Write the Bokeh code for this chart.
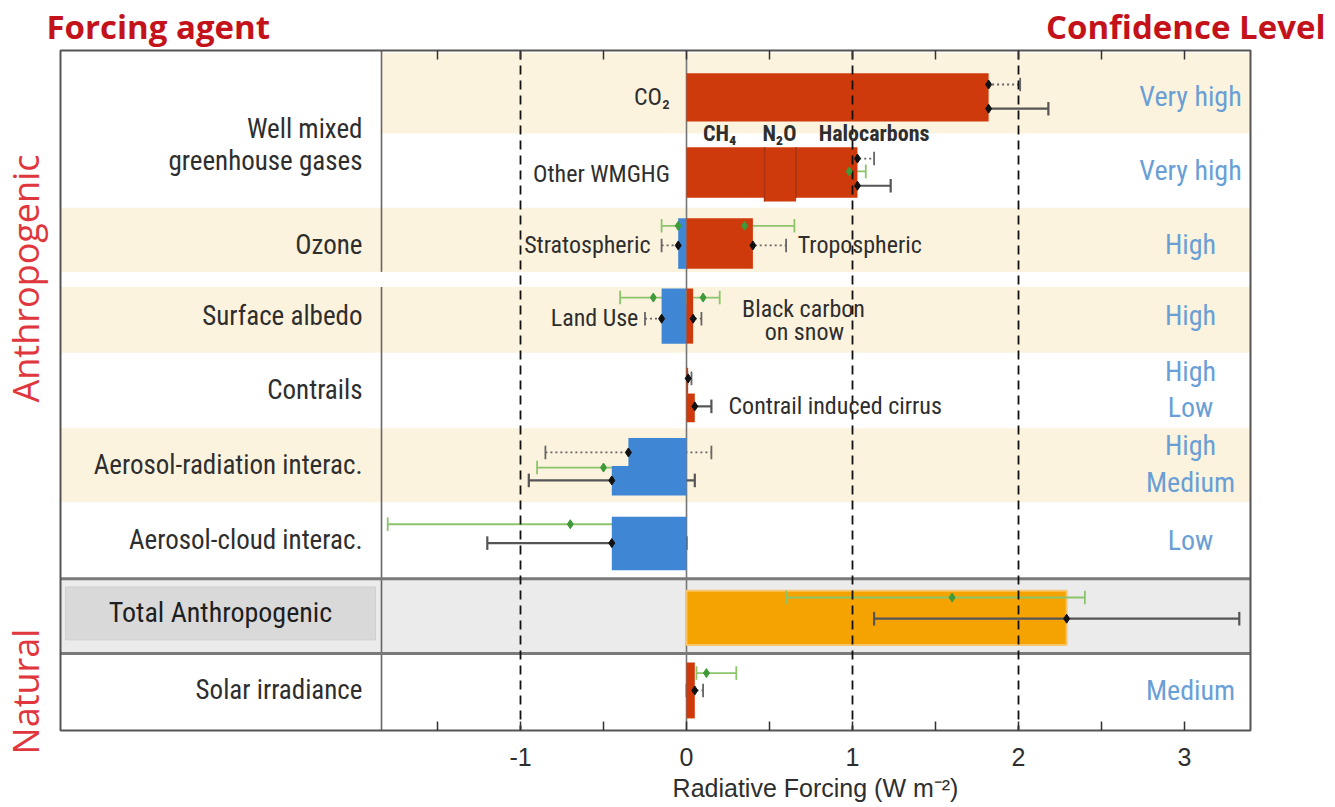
import math
from bokeh.plotting import figure
from bokeh.models import Range1d, FixedTicker, LinearAxis, ColumnDataSource
from bokeh.core.properties import value
from bokeh.embed import file_html
from bokeh.resources import INLINE

# ------------------------------------------------------------------ data
agents = ["Well mixed greenhouse gases", "Ozone", "Surface albedo", "Contrails",
          "Aerosol-radiation interac.", "Aerosol-cloud interac.",
          "Total Anthropogenic", "Solar irradiance"]
confidence = ["Very high", "Very high", "High", "High", "High", "Low",
              "High", "Medium", "Low", "Medium"]

# bars (W m-2); components sharing a group are stacked
bar_names = ["CO2", "CH4", "N2O", "Halocarbons", "Stratospheric", "Tropospheric",
             "Land Use", "Black carbon on snow", "Contrails", "Contrail induced cirrus",
             "Aerosol-radiation RF", "Aerosol-radiation ERF", "Aerosol-cloud ERF",
             "Total Anthropogenic", "Solar irradiance"]
bar_group = ["co2", "wmghg", "wmghg", "wmghg", "o3s", "o3t", "lu", "bc", "con", "cir",
             "arf", "aerf", "acerf", "tot", "sol"]
bar_values = [1.82, 0.47, 0.19, 0.37, -0.05, 0.40, -0.15, 0.04, 0.01, 0.05,
              -0.35, -0.45, -0.45, 2.29, 0.05]

# uncertainty whiskers: kind RF (dotted), ERF (solid), AR4 (green)
wh_names = ["CO2", "CO2", "Other WMGHG", "Other WMGHG", "Other WMGHG",
            "Stratospheric", "Tropospheric", "Stratospheric", "Tropospheric",
            "Land Use", "Black carbon", "Land Use", "Black carbon",
            "Contrails", "Contrail cirrus",
            "Aer-rad", "Aer-rad", "Aer-rad", "Aer-cloud", "Aer-cloud",
            "Total", "Total", "Solar", "Solar"]
wh_kind = ["RF", "ERF", "RF", "AR4", "ERF",
           "AR4", "AR4", "RF", "RF",
           "AR4", "AR4", "RF", "RF",
           "RF", "ERF",
           "RF", "AR4", "ERF", "AR4", "ERF",
           "AR4", "ERF", "AR4", "RF"]
wh_best = [1.82, 1.82, 1.03, 0.98, 1.03,
           -0.05, 0.35, -0.05, 0.40,
           -0.20, 0.10, -0.15, 0.04,
           0.01, 0.05,
           -0.35, -0.50, -0.45, -0.70, -0.45,
           1.60, 2.29, 0.12, 0.05]
wh_low = [1.63, 1.46, 0.92, 0.88, 0.83,
          -0.15, 0.25, -0.15, 0.20,
          -0.40, 0.00, -0.25, 0.02,
          0.005, 0.02,
          -0.85, -0.90, -0.95, -1.80, -1.20,
          0.60, 1.13, 0.06, 0.00]
wh_high = [2.01, 2.18, 1.13, 1.08, 1.23,
           0.05, 0.65, 0.05, 0.60,
           0.00, 0.20, -0.05, 0.09,
           0.03, 0.15,
           0.15, -0.10, 0.05, -0.30, 0.00,
           2.40, 3.33, 0.30, 0.10]

x_ticks = [-1, 0, 1, 2, 3]
x_minor = [-1.5, -0.5, 0.5, 1.5, 2.5]
ref_lines = [-1, 1, 2]

# ------------------------------------------------------------------ layout (row units, 0 = top of box)
W, H = 1335, 807
PX_PER_X = 166.0          # pixels per W m-2
X0_PX = 686.0             # page x of 0 W m-2
BOX_TOP, BOX_BOT = 50.0, 730.0
N_ROWS = 9
PX_PER_ROW = (BOX_BOT - BOX_TOP) / N_ROWS


def px2x(px):
    return (px - X0_PX) / PX_PER_X


def py2y(py):
    return (py - BOX_TOP) / PX_PER_ROW


bar_y0 = [0.30, 1.28, 1.28, 1.28, 2.22, 2.22, 3.15, 3.15, 4.20, 4.54,
          5.13, 5.50, 6.17, 7.15, 8.10]
bar_y1 = [0.94, 1.95, 2.00, 1.95, 2.89, 2.89, 3.88, 3.88, 4.54, 4.92,
          5.50, 5.89, 6.88, 7.87, 8.84]
wh_y = [0.45, 0.77, 1.43, 1.60, 1.79,
        2.32, 2.32, 2.58, 2.58,
        3.27, 3.27, 3.55, 3.55,
        4.34, 4.71,
        5.32, 5.52, 5.69, 6.27, 6.52,
        7.24, 7.52, 8.24, 8.47]
agent_y = [None, 2.57, 3.51, 4.49, 5.48, 6.48, 7.44, 8.47]
conf_y = [0.61, 1.59, 2.57, 3.51, 4.25, 4.72, 5.23, 5.72, 6.48, 8.47]

XL, XR = px2x(60), px2x(1250)
XDIV = px2x(381)
LABEL_X = px2x(362)
CONF_X = px2x(1190)

NARROW = "Liberation Sans Narrow, Roboto Condensed, Liberation Sans"
PLAIN = "Liberation Sans"
RED = "#cf3a0c"
BLUE = "#3f86d4"
ORANGE = "#f5a300"
BEIGE = "#fcf3df"
TXT = "#2e2e2e"
CONF_C = "#6a9fd6"
HEAD_RED = "#c4121a"
SIDE_RED = "#e0363d"
BOX_C = "#555555"

p = figure(width=W, height=H, output_backend="svg", toolbar_location=None,
           x_range=Range1d(px2x(0), px2x(W)), y_range=Range1d(py2y(H), py2y(0)),
           min_border=0, background_fill_color="white", border_fill_color="white")
p.grid.visible = False
p.yaxis.visible = False
p.outline_line_color = None


def style_axis(a, labels):
    a.axis_line_color = None
    a.major_tick_in = 9
    a.major_tick_out = 0
    a.minor_tick_in = 9
    a.minor_tick_out = 0
    a.major_tick_line_color = "#333333"
    a.minor_tick_line_color = "#333333"
    a.major_tick_line_width = 1.5
    a.minor_tick_line_width = 1.5
    if labels:
        a.major_label_text_font = PLAIN
        a.major_label_text_font_size = "25px"
        a.major_label_text_color = TXT
        a.major_label_standoff = 17
        a.major_label_overrides = {t: str(t) for t in x_ticks}
    else:
        a.major_label_text_font_size = "0px"
        a.major_label_text_alpha = 0
        a.major_label_standoff = 0


ax = p.xaxis[0]
ax.ticker = FixedTicker(ticks=x_ticks, minor_ticks=x_minor)
ax.fixed_location = N_ROWS
style_axis(ax, True)

top = LinearAxis(ticker=FixedTicker(ticks=x_ticks, minor_ticks=x_minor), fixed_location=0)
style_axis(top, False)
p.add_layout(top, "above")

# ---- backgrounds
p.quad(left=[XDIV], right=[XR], top=[0.03], bottom=[1.10], fill_color=BEIGE, line_color=None)
p.quad(left=[XL, XL, XL], right=[XR, XR, XR], top=[2.08, 3.13, 5.0], bottom=[2.93, 4.0, 5.98],
       fill_color=BEIGE, line_color=None)
p.quad(left=[XL], right=[XR], top=[6.99], bottom=[7.98], fill_color="#ebebeb", line_color=None)
p.quad(left=[px2x(65)], right=[px2x(375)], top=[7.10], bottom=[7.80], fill_color="#d9d9d9",
       line_color="#cfcfcf", line_width=1)

# ---- divider & zero line
p.segment(x0=[XDIV, XDIV], x1=[XDIV, XDIV], y0=[0, 3.13], y1=[2.93, N_ROWS], line_color="#666666", line_width=1.6)
p.segment(x0=[0], x1=[0], y0=[0], y1=[N_ROWS], line_color="#777777", line_width=1.6)

# ---- separators around total
p.segment(x0=[XL, XL], x1=[XR, XR], y0=[6.99, 7.98], y1=[6.99, 7.98], line_color="#7a7a7a", line_width=3)

# ---- bars
lefts, rights = [], []
acc = {}
for g, v in zip(bar_group, bar_values):
    base = acc.get(g, 0.0)
    lefts.append(min(base, base + v))
    rights.append(max(base, base + v))
    acc[g] = base + v
colors = [ORANGE if n.startswith("Total") else (RED if v > 0 else BLUE)
          for n, v in zip(bar_names, bar_values)]
bsrc = ColumnDataSource(dict(left=lefts, right=rights, top=bar_y0, bottom=bar_y1, color=colors,
                             line=["#f8c56a" if c == ORANGE else c for c in colors]))
tot_idx = [i for i, n in enumerate(bar_names) if n.startswith("Total")]
oth_idx = [i for i in range(len(bar_names)) if i not in tot_idx]


def sub(src, idx):
    return ColumnDataSource({k: [v[i] for i in idx] for k, v in src.data.items()})


p.quad(left="left", right="right", top="top", bottom="bottom", fill_color="color",
       line_color="line", line_width=2, source=sub(bsrc, tot_idx))

# ---- whiskers
style = {"RF": ("#666666", "2 3", 1.8), "ERF": ("#555555", "solid", 2.2), "AR4": ("#8cc46c", "solid", 1.8)}
CAP = 0.09
for kind, (col, dash, w) in style.items():
    idx = [i for i, k in enumerate(wh_kind) if k == kind]
    lo = [wh_low[i] for i in idx]
    hi = [wh_high[i] for i in idx]
    yy = [wh_y[i] for i in idx]
    p.segment(x0=lo, x1=hi, y0=yy, y1=yy, line_color=col, line_width=w, line_dash=dash)
    p.segment(x0=lo + hi, x1=lo + hi, y0=[y - CAP for y in yy] * 2, y1=[y + CAP for y in yy] * 2,
              line_color=col, line_width=w)

p.quad(left="left", right="right", top="top", bottom="bottom", fill_color="color",
       line_color=None, source=sub(bsrc, oth_idx))
# dividers between stacked WMGHG components
wm = [i for i, g in enumerate(bar_group) if g == "wmghg"][1:]
p.segment(x0=[lefts[i] for i in wm], x1=[lefts[i] for i in wm], y0=[bar_y0[i] for i in wm],
          y1=[bar_y1[i] for i in wm], line_color="#a8320c", line_width=1.5)

# ---- dashed reference lines (on top of bars)
p.segment(x0=ref_lines, x1=ref_lines, y0=[0] * 3, y1=[N_ROWS] * 3, line_color="#111111",
          line_width=1.8, line_dash="9 6")

# ---- best-estimate markers
for kind, col in [("RF", "#111111"), ("ERF", "#111111"), ("AR4", "#3f9a3a")]:
    idx = [i for i, k in enumerate(wh_kind) if k == kind]
    p.scatter(x=[wh_best[i] for i in idx], y=[wh_y[i] for i in idx], marker="diamond",
              size=9, fill_color=col, line_color=col)

# ---- chart box
p.quad(left=[XL], right=[XR], top=[0], bottom=[N_ROWS], fill_color=None, line_color=BOX_C, line_width=2)

# ---- agent labels (left column)
p.text(x=[LABEL_X, LABEL_X], y=[py2y(128), py2y(160)], text=["Well mixed", "greenhouse gases"],
       text_align="right", text_baseline="middle", text_font=value(NARROW),
       text_font_size="27px", text_color=TXT)
ag_idx = [i for i in range(1, len(agents)) if not agents[i].startswith("Total")]
p.text(x=[LABEL_X] * len(ag_idx), y=[agent_y[i] for i in ag_idx], text=[agents[i] for i in ag_idx],
       text_align="right", text_baseline="middle", text_font=value(NARROW),
       text_font_size="27px", text_color=TXT)
ti = agents.index("Total Anthropogenic")
p.text(x=[px2x(220)], y=[agent_y[ti]], text=[agents[ti]], text_align="center",
       text_baseline="middle", text_font=value(NARROW), text_font_size="28px", text_color="#1e1e1e")

# ---- confidence
p.text(x=[CONF_X] * len(confidence), y=conf_y, text=confidence, text_align="center",
       text_baseline="middle", text_font=value(NARROW), text_font_size="28px", text_color=CONF_C)

# ---- in-chart annotations
p.text(x=[-0.10, -0.10, -0.217, -0.29], y=[0.61, 1.63, 2.58, 3.54],
       text=["CO₂", "Other WMGHG", "Stratospheric", "Land Use"], text_align="right",
       text_baseline="middle", text_font=value(NARROW), text_font_size="24px", text_color=TXT)
p.text(x=[0.67, 0.253], y=[2.58, 4.71], text=["Tropospheric", "Contrail induced cirrus"],
       text_align="left", text_baseline="middle", text_font=value(NARROW),
       text_font_size="24px", text_color=TXT)
p.text(x=[0.705, 0.71], y=[3.42, 3.72], text=["Black carbon", "on snow"], text_align="center",
       text_baseline="middle", text_font=value(NARROW), text_font_size="24px", text_color=TXT)
p.text(x=[0.20, 0.56, 1.13], y=[1.10] * 3, text=["CH₄", "N₂O", "Halocarbons"], text_align="center",
       text_baseline="middle", text_font=value(NARROW), text_font_size="22px",
       text_font_style="bold", text_color=TXT)

# ---- headings, side labels and axis title
p.text(x=[px2x(46)], y=[py2y(26)], text=["Forcing agent"], text_align="left", text_baseline="middle",
       text_font=value("Open Sans"), text_font_style="bold", text_font_size="33px", text_color=HEAD_RED)
p.text(x=[px2x(1325)], y=[py2y(26)], text=["Confidence Level"], text_align="right",
       text_baseline="middle", text_font=value("Open Sans"), text_font_style="bold",
       text_font_size="33px", text_color=HEAD_RED)
p.text(x=[px2x(25), px2x(25)], y=[py2y(278), py2y(691)], text=["Anthropogenic", "Natural"],
       angle=math.pi / 2, text_align="center", text_baseline="middle", text_font=value("Open Sans"),
       text_font_size="36px", text_color=SIDE_RED)
p.text(x=[px2x(815)], y=[py2y(787)], text=["Radiative Forcing (W m⁻²)"], text_align="center",
       text_baseline="middle", text_font=value(PLAIN), text_font_size="25px", text_color=TXT)

open("out.html", "w").write(file_html(p, INLINE))
